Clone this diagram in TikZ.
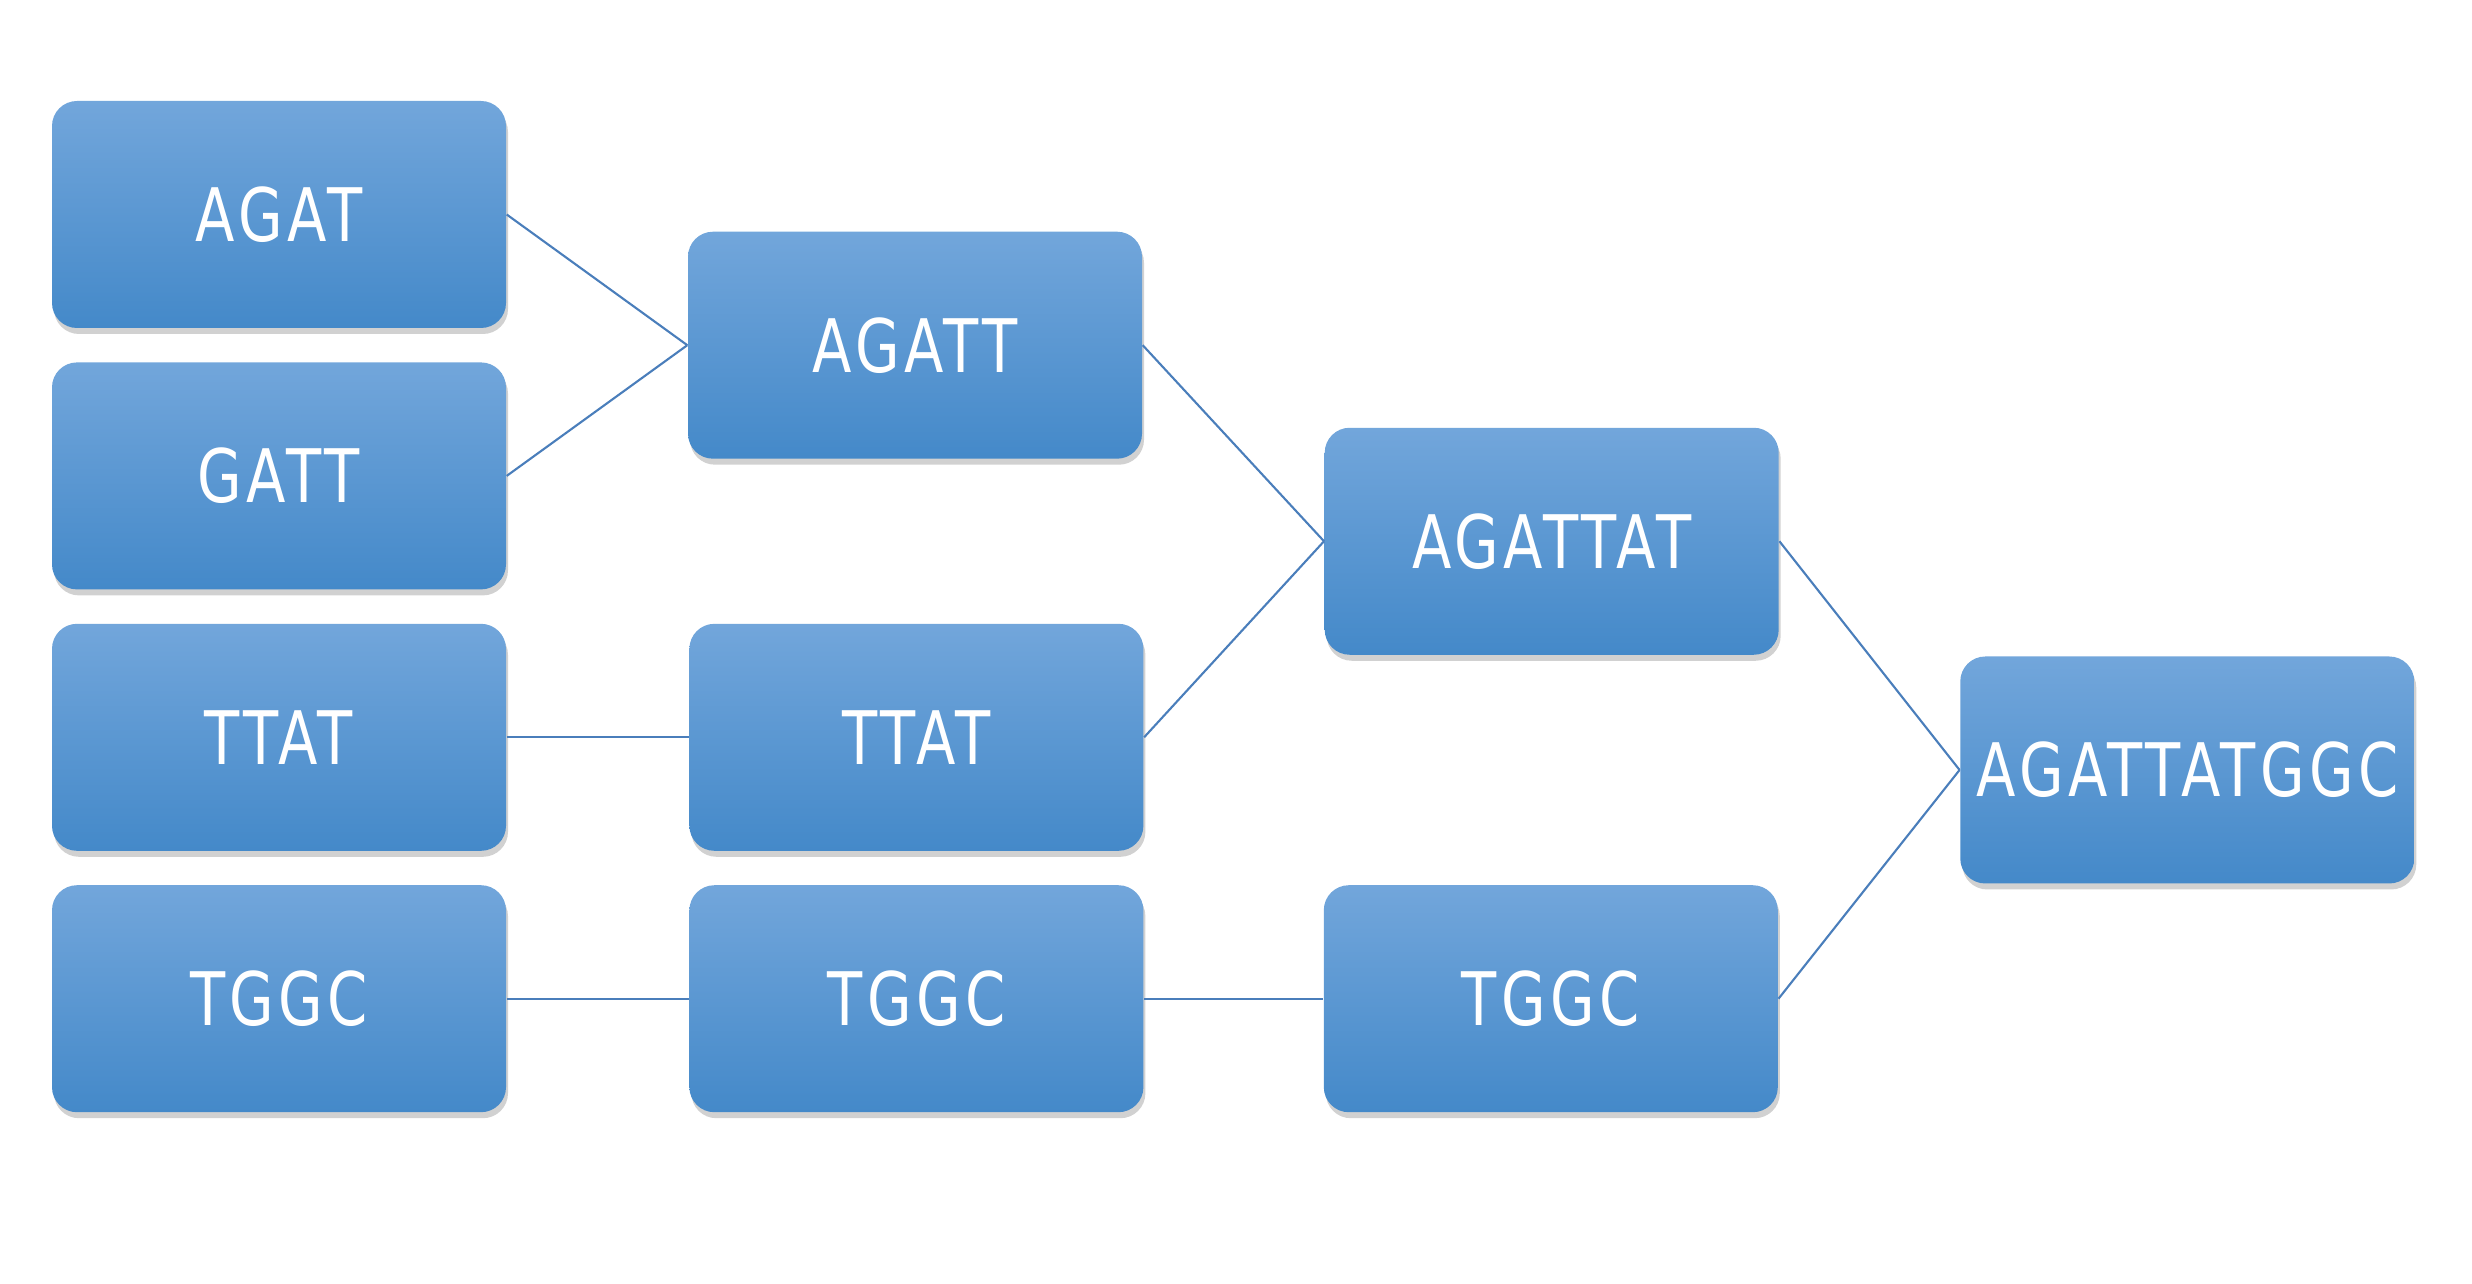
\documentclass[tikz,border=0pt]{standalone}
\usepackage{fontspec}
\setmainfont{DejaVu Sans}[FakeStretch=0.78, LetterSpace=6]
\usepackage{tikz}
\usetikzlibrary{positioning,calc,shadows}

\definecolor{boxtop}{HTML}{72A6DB}
\definecolor{boxbot}{HTML}{4489C9}
\definecolor{linkblue}{HTML}{4A7EBB}

\begin{document}
\begin{tikzpicture}[x=0.1mm, y=-0.1mm, node distance=3.3mm and 18.2mm,
  box/.style={rounded corners=2.5mm, top color=boxtop, bottom color=boxbot,
    minimum width=45.4mm, minimum height=22.7mm, inner sep=0pt,
    text=white, font=\fontsize{21}{25}\selectfont,
    drop shadow={shadow xshift=0.2mm, shadow yshift=-0.6mm, opacity=0.3, fill=black!60}},
  link/.style={draw=linkblue, line width=0.6pt}]

\useasboundingbox (0,0) rectangle (2472,1284);

% first column
\node[box] (agat) at (279,214.5) {AGAT};
\node[box, below=of agat] (gatt) {GATT};
\node[box, below=of gatt] (ttat1) {TTAT};
\node[box, below=of ttat1] (tggc1) {TGGC};

% second column
\node[box] (agatt) at ($(agat)!0.5!(gatt)+(636,0)$) {AGATT};
\node[box, right=of ttat1] (ttat2) {TTAT};
\node[box, right=of tggc1] (tggc2) {TGGC};

% third column
\node[box] (agattat) at ($(agatt)!0.5!(ttat2)+(636,0)$) {AGATTAT};
\node[box, right=17.9mm of tggc2] (tggc3) {TGGC};

% result
\node[box] (full) at ($(agattat)!0.5!(tggc3)+(636,0)$) {AGATTATGGC};

\draw[link] (agat.east) -- (agatt.west);
\draw[link] (gatt.east) -- (agatt.west);
\draw[link] (ttat1.east) -- (ttat2.west);
\draw[link] (tggc1.east) -- (tggc2.west);
\draw[link] (agatt.east) -- (agattat.west);
\draw[link] (ttat2.east) -- (agattat.west);
\draw[link] (tggc2.east) -- (tggc3.west);
\draw[link] (agattat.east) -- (full.west);
\draw[link] (tggc3.east) -- (full.west);
\end{tikzpicture}
\end{document}
